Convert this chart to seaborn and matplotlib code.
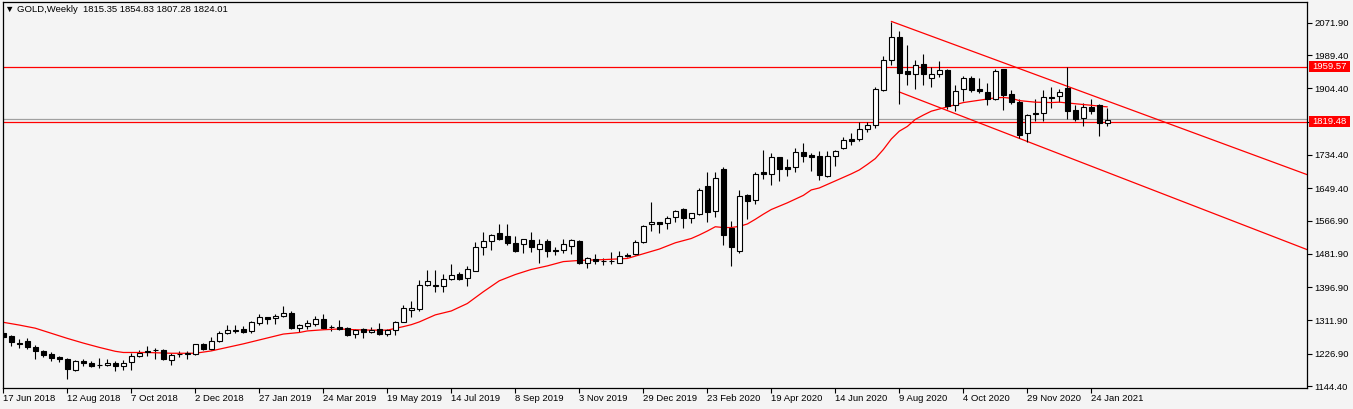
import numpy as np
import pandas as pd
import matplotlib
matplotlib.use("Agg")
import matplotlib.pyplot as plt
import matplotlib.transforms as mtransforms
from matplotlib.patches import Rectangle
import seaborn as sns

# ---------------- data ----------------
symbol = "GOLD,Weekly"
first_week = "2018-06-17"

opens = [1280.5, 1272.0, 1255.0, 1258.4, 1244.0, 1233.7, 1226.1, 1218.4, 1213.3, 1184.4,
         1209.1, 1203.1, 1198.8, 1197.1, 1203.1, 1194.6, 1205.6, 1220.1, 1230.3, 1236.3,
         1235.4, 1209.9, 1225.2, 1226.1, 1225.2, 1251.6, 1239.7, 1258.4, 1280.5, 1285.6,
         1289.9, 1283.9, 1304.4, 1319.7, 1317.1, 1322.2, 1329.9, 1293.3, 1298.4, 1302.7,
         1315.4, 1295.9, 1295.0, 1292.5, 1278.0, 1289.9, 1281.4, 1289.9, 1278.0, 1287.3,
         1308.6, 1337.6, 1341.8, 1401.4, 1400.5, 1398.8, 1416.7, 1430.3, 1419.3, 1438.8,
         1498.4, 1513.7, 1534.1, 1526.5, 1508.6, 1507.8, 1516.3, 1495.0, 1514.6, 1492.5,
         1492.5, 1502.7, 1514.6, 1459.3, 1467.8, 1462.7, 1463.5, 1459.3, 1478.0, 1480.5,
         1511.2, 1558.0, 1563.1, 1559.7, 1575.0, 1596.3, 1572.5, 1582.7, 1655.0, 1592.1,
         1698.4, 1547.0, 1488.2, 1632.1, 1618.5, 1690.8, 1685.7, 1728.2, 1702.7, 1702.7,
         1741.0, 1733.3, 1730.8, 1679.7, 1730.8, 1751.2, 1774.2, 1774.2, 1799.7, 1809.9,
         1900.1, 1976.7, 2035.4, 1947.7, 1940.1, 1966.4, 1929.8, 1940.9, 1951.1, 1860.9,
         1903.5, 1929.8, 1901.8, 1895.0, 1876.2, 1952.8, 1889.9, 1870.3, 1789.4, 1841.3,
         1840.5, 1882.2, 1883.9, 1906.0, 1849.0, 1827.7, 1857.5, 1862.6, 1815.35]

highs = [1287.3, 1274.6, 1265.2, 1267.8, 1249.1, 1236.3, 1230.3, 1221.8, 1216.7, 1209.9,
         1213.3, 1208.2, 1215.9, 1212.5, 1208.2, 1211.6, 1227.8, 1235.4, 1245.6, 1242.2,
         1238.8, 1229.5, 1233.7, 1232.9, 1252.4, 1255.0, 1268.6, 1284.8, 1299.5, 1299.2,
         1296.7, 1310.3, 1328.2, 1320.5, 1327.3, 1347.8, 1335.0, 1303.5, 1312.0, 1323.1,
         1328.2, 1301.0, 1312.9, 1295.9, 1290.7, 1291.6, 1295.0, 1305.2, 1289.9, 1310.3,
         1351.2, 1361.4, 1415.0, 1439.7, 1439.7, 1429.5, 1455.9, 1436.3, 1449.9, 1511.2,
         1537.6, 1532.4, 1558.0, 1558.0, 1527.3, 1519.7, 1537.6, 1520.5, 1518.8, 1498.4,
         1519.7, 1520.5, 1516.3, 1474.6, 1480.5, 1470.3, 1485.6, 1488.2, 1483.1, 1517.1,
         1555.4, 1614.1, 1563.9, 1578.0, 1593.8, 1598.0, 1587.0, 1649.9, 1691.6, 1689.9,
         1702.7, 1564.8, 1644.8, 1635.5, 1689.9, 1747.0, 1739.3, 1729.0, 1723.1, 1751.2,
         1764.0, 1738.4, 1745.2, 1744.4, 1747.0, 1780.1, 1789.5, 1818.4, 1817.6, 1907.7,
         1986.9, 2074.5, 2049.8, 2014.1, 1976.7, 1992.0, 1959.6, 1973.2, 1954.5, 1912.0,
         1935.8, 1935.8, 1929.8, 1918.8, 1953.7, 1953.7, 1900.1, 1876.2, 1838.8, 1876.2,
         1899.2, 1906.9, 1901.8, 1959.6, 1860.9, 1867.7, 1876.2, 1863.5, 1854.83]

lows = [1263.5, 1247.3, 1240.5, 1238.0, 1212.4, 1219.3, 1208.2, 1206.5, 1161.4, 1182.7,
        1195.4, 1192.0, 1191.2, 1194.6, 1181.8, 1186.1, 1184.4, 1218.4, 1221.0, 1214.2,
        1209.9, 1198.8, 1219.3, 1212.5, 1223.5, 1236.3, 1237.1, 1257.6, 1278.0, 1280.5,
        1280.5, 1278.8, 1299.2, 1303.5, 1303.5, 1320.5, 1290.7, 1283.1, 1290.7, 1297.6,
        1289.0, 1283.9, 1287.3, 1272.0, 1267.8, 1267.8, 1279.7, 1275.4, 1271.2, 1275.4,
        1306.9, 1321.4, 1335.0, 1399.7, 1383.5, 1384.4, 1415.0, 1415.0, 1400.6, 1437.1,
        1479.7, 1492.5, 1518.0, 1503.5, 1485.6, 1483.9, 1486.5, 1458.4, 1473.7, 1478.0,
        1483.9, 1482.2, 1456.7, 1446.5, 1456.7, 1452.4, 1455.0, 1458.4, 1472.9, 1478.0,
        1509.5, 1541.0, 1535.8, 1545.5, 1563.1, 1548.7, 1561.4, 1581.0, 1563.1, 1576.7,
        1505.3, 1451.6, 1484.8, 1569.9, 1608.2, 1672.9, 1658.4, 1668.7, 1681.4, 1691.6,
        1717.2, 1694.2, 1671.2, 1678.0, 1705.3, 1750.4, 1758.9, 1770.8, 1792.1, 1802.0,
        1898.4, 1963.9, 1863.5, 1912.8, 1901.8, 1912.0, 1908.6, 1932.4, 1850.7, 1846.5,
        1872.8, 1895.8, 1893.3, 1862.6, 1874.5, 1849.0, 1864.3, 1777.5, 1766.5, 1821.8,
        1821.8, 1854.1, 1869.4, 1826.0, 1820.1, 1809.0, 1838.8, 1783.5, 1807.28]

closes = [1268.6, 1256.7, 1252.4, 1243.1, 1232.9, 1224.4, 1215.9, 1213.3, 1187.8, 1208.2,
          1202.2, 1196.3, 1197.1, 1202.2, 1194.6, 1203.9, 1221.0, 1227.8, 1234.6, 1237.1,
          1212.5, 1222.7, 1226.9, 1227.8, 1250.8, 1239.7, 1258.4, 1278.8, 1287.0, 1287.3,
          1283.1, 1306.9, 1319.7, 1316.3, 1322.2, 1329.9, 1293.3, 1299.2, 1305.2, 1314.6,
          1293.3, 1294.2, 1290.7, 1275.4, 1286.5, 1281.4, 1286.5, 1278.0, 1286.5, 1306.9,
          1342.7, 1343.5, 1401.4, 1411.6, 1402.0, 1416.7, 1426.9, 1418.4, 1443.1, 1498.4,
          1514.6, 1529.0, 1520.5, 1508.6, 1489.9, 1518.8, 1498.4, 1506.1, 1489.9, 1488.2,
          1506.1, 1516.3, 1459.3, 1470.3, 1462.7, 1464.4, 1464.4, 1477.1, 1475.4, 1511.2,
          1552.0, 1563.1, 1557.1, 1572.5, 1590.4, 1572.5, 1585.3, 1644.8, 1587.8, 1674.6,
          1530.8, 1500.2, 1628.7, 1617.6, 1684.8, 1684.8, 1728.2, 1699.3, 1699.3, 1741.0,
          1732.5, 1729.9, 1684.0, 1730.8, 1744.4, 1771.6, 1770.8, 1799.7, 1809.9, 1902.6,
          1975.8, 2035.4, 1942.6, 1940.9, 1963.0, 1940.9, 1940.1, 1951.1, 1859.2, 1898.4,
          1929.8, 1899.2, 1897.5, 1877.9, 1949.4, 1888.1, 1870.3, 1784.3, 1836.2, 1837.9,
          1881.3, 1878.8, 1895.8, 1847.3, 1826.9, 1856.7, 1847.3, 1815.0, 1824.01]

# moving average (bar index, price)
ma_bars = [0, 2, 4, 6, 8, 10, 12, 14, 15, 18, 21, 24, 25, 26, 28, 30, 32, 33, 35, 37,
           38, 40, 42, 44, 46, 48, 50, 51, 52, 53, 54, 56, 58, 60, 62, 64, 66, 68, 70, 72,
           75, 78, 80, 82, 84, 86, 87, 88, 89, 90, 91, 92, 93, 94, 95, 96, 98, 100, 101, 102,
           104, 106, 107, 108, 109, 110, 111, 112, 113, 114, 115, 116, 118, 120, 122, 124,
           125, 126, 127, 129, 131, 132, 134, 136, 138]
ma_values = [1307, 1300, 1292, 1279, 1266, 1254, 1243, 1233, 1230, 1230, 1228, 1228, 1231,
             1234, 1243, 1252, 1262, 1267, 1277, 1281, 1285, 1288, 1290, 1288, 1287, 1287,
             1296, 1301, 1308, 1317, 1326, 1336, 1355, 1385, 1413, 1429, 1442, 1451, 1462,
             1465, 1467, 1470, 1482, 1494, 1510, 1521, 1530, 1540, 1551, 1549, 1549, 1552,
             1558, 1570, 1583, 1595, 1612, 1631, 1645, 1650, 1668, 1686, 1696, 1710, 1725,
             1748, 1775, 1795, 1807, 1825, 1836, 1846, 1857, 1868, 1874, 1880, 1881, 1879,
             1873, 1869, 1868, 1869, 1865, 1861, 1857]

# horizontal levels and channel anchors
resistance_level = 1959.57
support_level = 1819.48
ask_level = 1826.0
chan_upper_bars = [111, 163]
chan_upper_prices = [2075.2, 1683.8]
chan_lower_bars = [112, 163]
chan_lower_prices = [1895.0, 1492.4]

price_ticks = [2071.90, 1989.40, 1904.40, 1819.40, 1734.40, 1649.40, 1566.90,
               1481.90, 1396.90, 1311.90, 1226.90, 1144.40]
date_labels = ["17 Jun 2018", "12 Aug 2018", "7 Oct 2018", "2 Dec 2018", "27 Jan 2019",
               "24 Mar 2019", "19 May 2019", "14 Jul 2019", "8 Sep 2019", "3 Nov 2019",
               "29 Dec 2019", "23 Feb 2020", "19 Apr 2020", "14 Jun 2020", "9 Aug 2020",
               "4 Oct 2020", "29 Nov 2020", "24 Jan 2021"]

# ---------------- figure ----------------
BG = "#f4f4f4"
FS = 6.8
sns.set_style("ticks", rc={"axes.facecolor": BG, "figure.facecolor": BG,
                           "axes.edgecolor": "black"})
plt.rcParams["font.family"] = ["Liberation Sans", "DejaVu Sans"]

W, H = 1353, 409
fig = plt.figure(figsize=(W / 100, H / 100), dpi=100, facecolor=BG)
left_px, right_px, top_px, bot_px = 2.5, 1307, 1.5, 387.5
ax = fig.add_axes([left_px / W, (H - bot_px) / H, (right_px - left_px) / W, (bot_px - top_px) / H])
ax.set_facecolor(BG)

df = pd.DataFrame({"open": opens, "high": highs, "low": lows, "close": closes})
df["bar"] = np.arange(len(df))
up = df["close"] >= df["open"]

# wicks
ax.vlines(df["bar"], df["low"], df["high"], color="black", linewidth=0.8, zorder=2)
# bodies
body_bottom = np.minimum(df["open"], df["close"])
body_height = np.maximum(np.abs(df["close"] - df["open"]), 0.01)
ax.bar(df["bar"], body_height, bottom=body_bottom, width=0.55,
       color=np.where(up, "white", "black"), edgecolor="black", linewidth=0.8, zorder=3)

# moving average
ma_df = pd.DataFrame({"bar": ma_bars, "ma": ma_values})
sns.lineplot(data=ma_df, x="bar", y="ma", color="red", linewidth=0.9, ax=ax, zorder=2.5)

# horizontal lines
ax.axhline(ask_level, color="#a0a0a0", linewidth=0.9, zorder=1.5)
ax.axhline(resistance_level, color="red", linewidth=0.9, zorder=1.6)
ax.axhline(support_level, color="red", linewidth=0.9, zorder=1.6)

# channel
ax.plot(chan_upper_bars, chan_upper_prices, color="red", linewidth=0.9, zorder=1.7)
ax.plot(chan_lower_bars, chan_lower_prices, color="red", linewidth=0.9, zorder=1.7)

# axes limits
ax.set_xlim(-0.1, 162.96)
ax.set_ylim(1140.6, 2126.0)

# y ticks on right
ax.yaxis.tick_right()
ax.set_yticks(price_ticks)
ax.set_yticklabels([f"{v:.2f}" for v in price_ticks])
ax.tick_params(axis="y", which="both", left=False, right=True, direction="out", length=3.5,
               width=0.8, pad=2, labelsize=FS, colors="black")

# x ticks
start = pd.Timestamp(first_week)
tick_bars = [(pd.Timestamp(d) - start).days // 7 for d in date_labels]
ax.set_xticks(tick_bars)
ax.set_xticklabels(date_labels)
ax.tick_params(axis="x", direction="out", length=3.5, width=0.8, pad=1.5, labelsize=FS,
               colors="black")
for lbl in ax.get_xticklabels():
    lbl.set_ha("left")

for s in ax.spines.values():
    s.set_visible(True)
    s.set_color("black")
    s.set_linewidth(0.9)
ax.set_xlabel("")
ax.set_ylabel("")

# red price boxes on the right axis
blend = mtransforms.blended_transform_factory(ax.transAxes, ax.transData)
px_per_price = (bot_px - top_px) / (2126.0 - 1140.6)
box_w = 41 / (right_px - left_px)
box_h = 10.5 / px_per_price
for lvl in [resistance_level, support_level]:
    ax.add_patch(Rectangle((1 + 1.5 / (right_px - left_px), lvl - box_h / 2), box_w, box_h,
                           transform=blend, facecolor="red", edgecolor="none",
                           clip_on=False, zorder=10))
    ax.text(1 + 5.5 / (right_px - left_px), lvl, f"{lvl:.2f}", transform=blend,
            color="white", fontsize=FS, va="center", ha="left", zorder=11, clip_on=False)

# title
title = f"\u25bc {symbol}  {opens[-1]:.2f} {highs[-1]:.2f} {lows[-1]:.2f} {closes[-1]:.2f}"
fig.text(5 / W, 1 - 9.5 / H, title, ha="left", va="center", fontsize=FS, color="black")

fig.savefig("out.png", dpi=100, facecolor=BG)
